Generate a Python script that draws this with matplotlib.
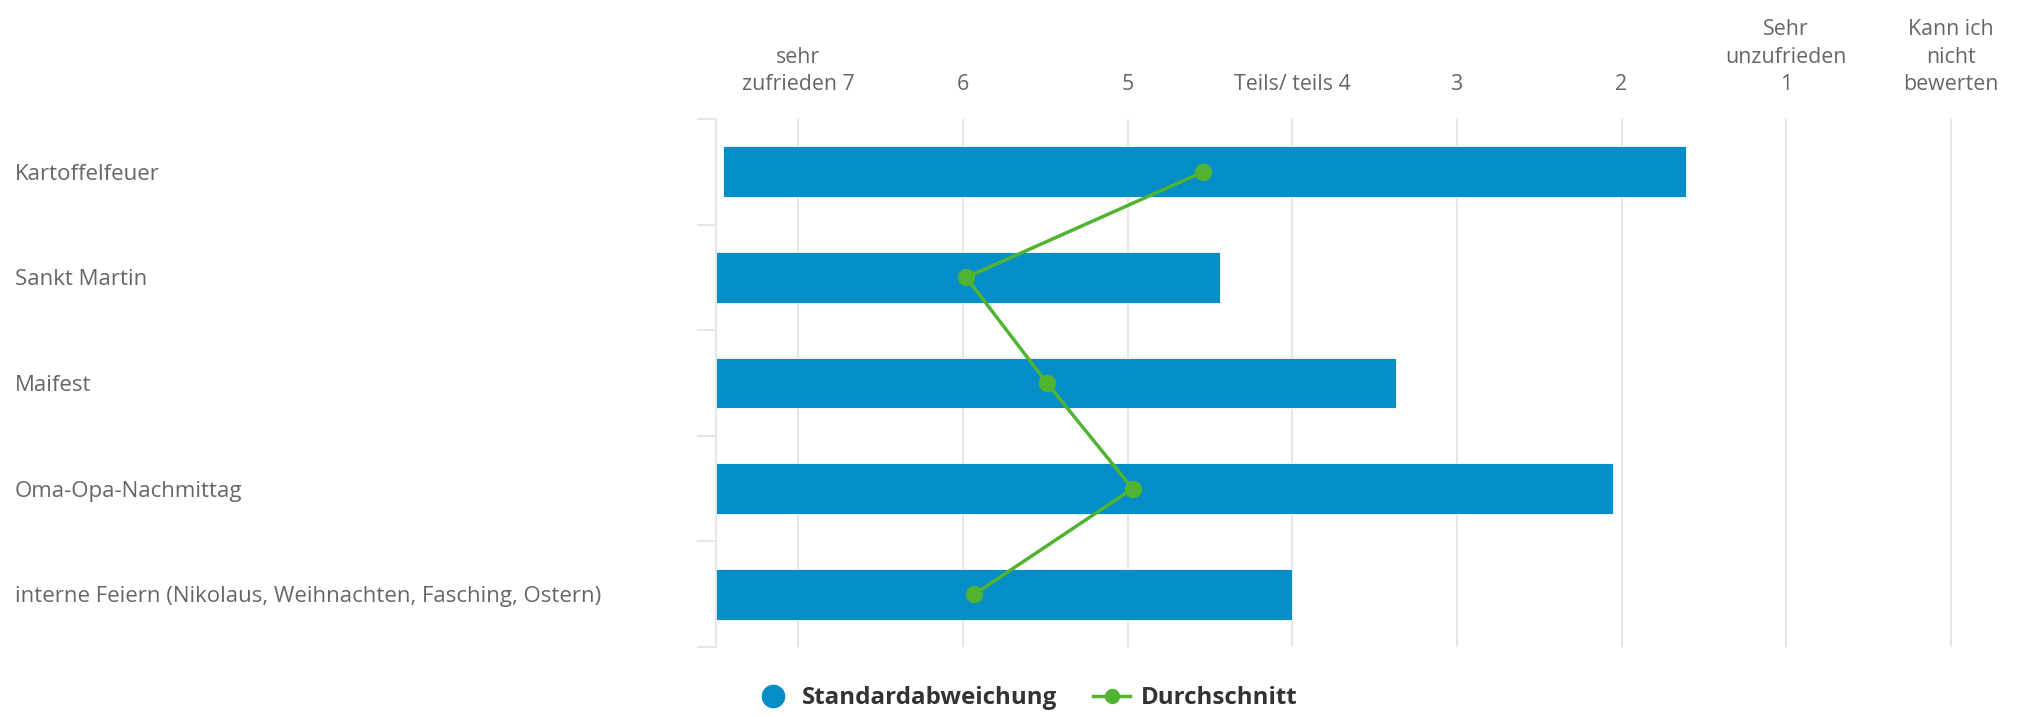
import numpy as np
import matplotlib.pyplot as plt
from matplotlib.lines import Line2D

plt.rcParams['font.family'] = ['Open Sans', 'DejaVu Sans']

categories = ["Kartoffelfeuer", "Sankt Martin", "Maifest", "Oma-Opa-Nachmittag",
              "interne Feiern (Nikolaus, Weihnachten, Fasching, Ostern)"]
scale_labels = ["sehr\nzufrieden 7", "6", "5", "Teils/ teils 4", "3", "2",
                "Sehr\nunzufrieden\n1", "Kann ich\nnicht\nbewerten"]
# positions on the scale axis (0 = "sehr zufrieden 7", 7 = "Kann ich nicht bewerten")
std_start = [-0.46, -0.5, -0.5, -0.5, -0.5]
std_end = [5.39, 2.56, 3.63, 4.95, 3.0]
mean_vals = [2.46, 1.02, 1.51, 2.03, 1.07]

bar_color = '#058DC7'
line_color = '#50B432'
grid_color = '#e6e6e6'

W, H = 2027, 717
fig = plt.figure(figsize=(W / 100, H / 100), dpi=100)
ax = fig.add_axes([716 / W, 1 - 647 / H, (2020 - 716) / W, (647 - 119) / H])

y = np.arange(len(categories))
widths = np.array(std_end) - np.array(std_start)
ax.barh(y, widths, left=std_start, height=0.48, color=bar_color,
        edgecolor='white', linewidth=0.6, zorder=2)
ax.plot(mean_vals, y, color=line_color, lw=2.5, marker='o', ms=11.5, zorder=3)

ax.set_xlim(-0.5, 7.42)
ax.set_ylim(len(categories) - 0.5, -0.5)

ax.xaxis.tick_top()
ax.set_xticks(range(len(scale_labels)))
ax.set_xticklabels(scale_labels, fontsize=15.4, color='#666666', linespacing=1.42)
ax.tick_params(axis='x', length=0, pad=17)

ax.set_yticks(y)
ax.set_yticklabels(categories, fontsize=16, color='#666666', ha='left')
ax.set_yticks(np.arange(len(categories) + 1) - 0.5, minor=True)
ax.tick_params(axis='y', which='major', length=0, pad=(716 - 15) * 0.72)
ax.tick_params(axis='y', which='minor', length=13.7, width=1.4, color=grid_color)

ax.grid(axis='x', color=grid_color, lw=1.4)
ax.set_axisbelow(True)
for s in ['top', 'right', 'bottom']:
    ax.spines[s].set_visible(False)
ax.spines['left'].set_color(grid_color)
ax.spines['left'].set_linewidth(1.4)

handles = [
    Line2D([], [], ls='none', marker='o', ms=16, color=bar_color),
    Line2D([], [], color=line_color, lw=2.5, marker='o', ms=10),
]
fig.legend(handles, ['Standardabweichung', 'Durchschnitt'], loc='center',
           bbox_to_anchor=(1026 / W, 1 - 698 / H), ncol=2, frameon=False,
           handlelength=1.5, handletextpad=0.45, columnspacing=1.5,
           prop={'weight': 'bold', 'size': 17.4}, labelcolor='#333333')

fig.savefig('out.png', dpi=100)
